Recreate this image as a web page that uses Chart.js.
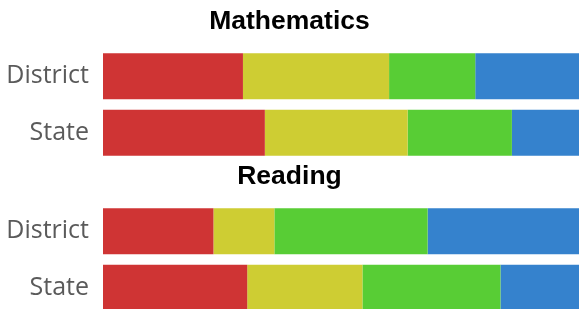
<!DOCTYPE html>
<html>
<head>
<meta charset="utf-8">
<script src="https://cdn.jsdelivr.net/npm/chart.js@4/dist/chart.umd.min.js"></script>
<style>
  html, body { margin: 0; padding: 0; background: #fff; }
  body { width: 579px; height: 309px; overflow: hidden; position: relative; }
  .box { position: absolute; left: 0; width: 579px; height: 190px; }
</style>
</head>
<body>
<div class="box" style="top:0"><canvas id="chart-math" width="579" height="190"></canvas></div>
<div class="box" style="top:155px"><canvas id="chart-reading" width="579" height="190"></canvas></div>
<script>
// percent of students at each level
const categories = ['District', 'State'];
const levels = ['Level 1', 'Level 2', 'Level 3', 'Level 4'];
const mathDistrict = [29.4, 30.7, 18.1, 21.8];
const mathState = [34.0, 30.0, 21.9, 14.1];
const readingDistrict = [23.2, 12.8, 32.2, 31.8];
const readingState = [30.3, 24.2, 29.0, 16.5];

const colors = ['#cf3434', '#cecd33', '#58cd35', '#3582cd'];

function makeChart(id, title, district, state) {
  var ctx = document.getElementById(id).getContext('2d');
  return new Chart(ctx, {
    type: 'bar',
    data: {
      labels: categories,
      datasets: levels.map(function (lvl, i) {
        return {
          label: lvl,
          data: [district[i], state[i]],
          backgroundColor: colors[i],
          borderWidth: 0,
          categoryPercentage: 0.9,
          barPercentage: 0.9
        };
      })
    },
    options: {
      indexAxis: 'y',
      responsive: false,
      animation: false,
      // tick labels reserve ~29px at the bottom, canvas is taller to make up for it
      layout: { padding: 0 },
      plugins: {
        legend: { display: false },
        tooltip: { enabled: false },
        title: {
          display: true,
          text: title,
          color: '#000',
          font: { family: 'Liberation Sans', size: 26.5, weight: 'bold', lineHeight: 1.2 },
          padding: { top: 6.2, bottom: 10 }
        }
      },
      scales: {
        x: {
          stacked: true,
          display: false,
          min: 0,
          max: 100
        },
        y: {
          stacked: true,
          grid: { display: false, drawTicks: false },
          border: { display: false },
          afterFit: function (scale) { scale.width = 103; },
          ticks: {
            padding: 14,
            color: '#5a5a5a',
            font: { family: 'Open Sans', size: 25 }
          }
        }
      }
    }
  });
}

makeChart('chart-math', 'Mathematics', mathDistrict, mathState);
makeChart('chart-reading', 'Reading', readingDistrict, readingState);
</script>
</body>
</html>
